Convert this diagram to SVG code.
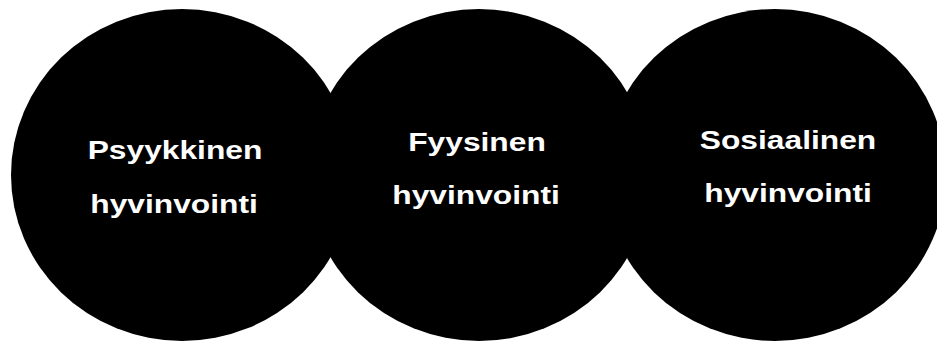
<svg xmlns="http://www.w3.org/2000/svg" width="937" height="342" viewBox="0 0 937 342">
<style>
.c{fill:#000}
.t{fill:#fff;font-family:"Liberation Sans",Arial,sans-serif;font-weight:bold;font-size:25px;text-anchor:middle}
</style>
<rect width="937" height="342" fill="#fff"/>
<g id="psyykkinen">
<ellipse class="c" cx="182" cy="175" rx="171" ry="166"/>
<text class="t" transform="translate(175,159) scale(1.27,1)">Psyykkinen</text>
<text class="t" transform="translate(174,213) scale(1.27,1)">hyvinvointi</text>
</g>
<g id="fyysinen">
<ellipse class="c" cx="479" cy="175" rx="171" ry="166"/>
<text class="t" transform="translate(477,151) scale(1.27,1)">Fyysinen</text>
<text class="t" transform="translate(476,204) scale(1.27,1)">hyvinvointi</text>
</g>
<g id="sosiaalinen">
<ellipse class="c" cx="775" cy="175" rx="171" ry="166"/>
<text class="t" transform="translate(788,149) scale(1.27,1)">Sosiaalinen</text>
<text class="t" transform="translate(788,202) scale(1.27,1)">hyvinvointi</text>
</g>
<g id="connectors"></g>
</svg>
